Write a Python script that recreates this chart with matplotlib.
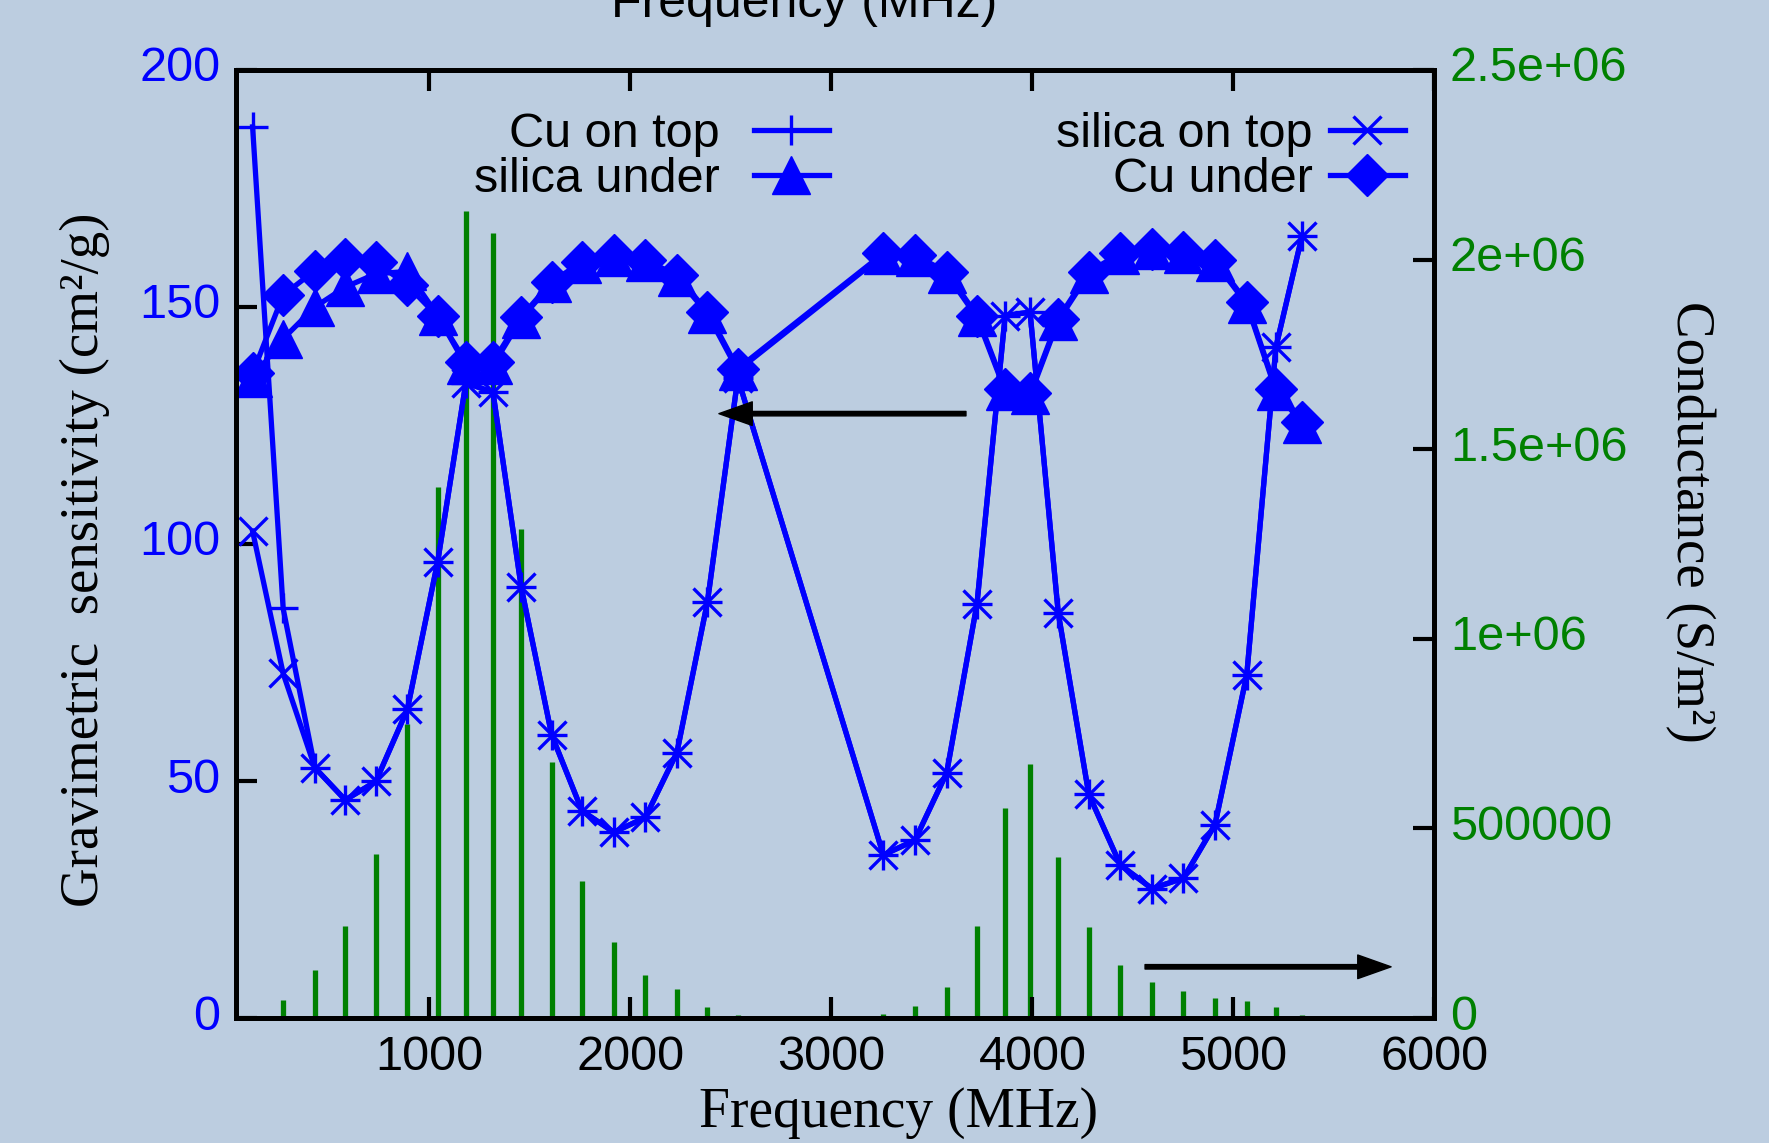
import matplotlib
matplotlib.use("Agg")
import matplotlib.pyplot as plt
from matplotlib.transforms import ScaledTranslation

# ---------------- data ----------------
freq = [120, 272, 430, 581, 733, 890, 1041, 1181, 1316, 1456, 1608, 1759, 1917,
        2074, 2231, 2383, 2534, 3258, 3415, 3573, 3724, 3864, 3988, 4128, 4280,
        4437, 4594, 4751, 4908, 5066, 5211, 5341]

cu_on_top = [188, 86.4, 52.8, 46.0, 49.9, 65.1, 96.3, 134, 132, 91, 59.7, 43.7,
             39.2, 42.3, 56.0, 87.8, 135, 34.4, 37.5, 51.7, 87.4, 148.2, 148.9,
             85.5, 47.2, 32.3, 27.3, 29.5, 40.8, 72.4, 141.5, 165.0]

silica_on_top = [102.7, 72.7, 52.8, 46.0, 49.9, 65.1, 96.3, 134, 132, 91, 59.7,
                 43.7, 39.2, 42.3, 56.0, 87.8, 135, 34.4, 37.5, 51.7, 87.4, 148.2,
                 148.9, 85.5, 47.2, 32.3, 27.3, 29.5, 40.8, 72.4, 141.5, 165.0]

silica_under = [135, 143.3, 150, 154.2, 157, 157.5, 148.2, 137.7, 137.7, 147.5,
                155, 159, 160.5, 159.5, 156.3, 148.6, 136.6, 161, 160.5, 157,
                147.8, 132.3, 131.4, 147.1, 157, 161, 162, 161.2, 159.5, 150.6,
                132.3, 125.4]

cu_under = [136, 152.5, 157.7, 160.2, 159.5, 154.6, 148, 138.4, 138.4, 147.9,
            155.3, 159.5, 160.9, 159.9, 156.7, 149, 137, 161.3, 160.9, 157.4,
            148.2, 132.7, 131.8, 147.5, 157.4, 161.3, 162.3, 161.6, 159.9, 151.0,
            132.7, 125.8]

conductance = [5e3, 48e3, 126e3, 242e3, 433e3, 776e3, 1.40e6, 2.128e6, 2.071e6,
               1.29e6, 675e3, 360e3, 201e3, 113e3, 76e3, 28e3, 9e3, 10.7e3, 31e3,
               82e3, 243e3, 554e3, 670e3, 424e3, 240e3, 140e3, 96e3, 71e3, 53e3,
               44e3, 28e3, 9e3]

xticks = [1000, 2000, 3000, 4000, 5000, 6000]
yticks_left = [0, 50, 100, 150, 200]
yticks_right = [0, 500000, 1000000, 1500000, 2000000, 2500000]
yticks_right_labels = ["0", "500000", "1e+06", "1.5e+06", "2e+06", "2.5e+06"]

arrow_left = ((3669, 127.5), (2440, 127.5))    # (from, to) in left-axis data
arrow_right = ((4560, 10.8), (5784, 10.8))

# ---------------- style ----------------
BG = "#bccde0"
BLUE = "#0000ff"
GREEN = "#008000"
SANS = ["Liberation Sans", "DejaVu Sans"]
SERIF = ["Liberation Serif", "DejaVu Serif"]
plt.rcParams["font.family"] = SANS

fig = plt.figure(figsize=(17.69, 11.43), dpi=100, facecolor=BG)
ax = fig.add_axes([0.13313, 0.10936, 0.67778, 0.82940])
ax2 = ax.twinx()
ax.set_zorder(2)
ax2.set_zorder(1)
ax.patch.set_visible(False)
ax2.patch.set_visible(False)

# conductance spectrum (right axis)
ax2.vlines(freq, 0, conductance, color=GREEN, lw=3.8)
ax2.axhline(0, color=GREEN, lw=2.5)
ax2.set_ylim(0, 2.5e6)
ax2.set_yticks(yticks_right)
ax2.set_yticklabels(yticks_right_labels)
ax2.tick_params(axis="y", direction="in", length=15, width=3,
                labelcolor=GREEN, labelsize=35, pad=11)
for s in ax2.spines.values():
    s.set_visible(False)

# sensitivity curves (left axis)
lw = 3.8
l_tri, = ax.plot(freq, silica_under, color=BLUE, lw=lw, marker="^", ms=28,
                 mew=1, label="silica under")
l_dia, = ax.plot(freq, cu_under, color=BLUE, lw=lw, marker="D", ms=21,
                 mew=1, label="Cu under")
l_plus, = ax.plot(freq, cu_on_top, color=BLUE, lw=lw, marker="+", ms=22,
                  mew=2.4, label="Cu on top")
l_x, = ax.plot(freq, silica_on_top, color=BLUE, lw=lw, marker="x", ms=20,
               mew=2.4, label="silica on top")

ax.set_xlim(35, 6000)
ax.set_ylim(0, 200)
ax.set_xticks(xticks)
ax.set_yticks(yticks_left)
ax.tick_params(axis="y", direction="in", length=15, width=3, labelcolor=BLUE,
               labelsize=35, pad=11, right=False)
ax.tick_params(axis="x", direction="in", length=15, width=3, labelcolor="black",
               labelsize=35, pad=12, top=True)
for s in ax.spines.values():
    s.set_linewidth(3.6)
    s.set_color("black")

# y tick labels sit slightly above their ticks in the reference
lift = ScaledTranslation(0, 6 / 100, fig.dpi_scale_trans)
for lab in ax.get_yticklabels() + ax2.get_yticklabels():
    lab.set_transform(lab.get_transform() + lift)

# arrows
for (x0, y0), (x1, y1) in (arrow_left, arrow_right):
    ax.annotate("", xy=(x1, y1), xytext=(x0, y0),
                arrowprops=dict(facecolor="black", edgecolor="black", width=3.2,
                                headwidth=17, headlength=24, shrink=0))

# legends
leg_kw = dict(loc="center right", frameon=False, markerfirst=False, fontsize=35,
              handlelength=1.55, labelspacing=0.0, borderpad=0,
              borderaxespad=0, numpoints=1)
leg1 = ax.legend(handles=[l_plus, l_tri], bbox_to_anchor=(0.495, 0.9085),
                 handletextpad=0.7, **leg_kw)
ax.add_artist(leg1)
leg2 = ax.legend(handles=[l_x, l_dia], bbox_to_anchor=(0.9754, 0.9085),
                 handletextpad=0.35, **leg_kw)

# axis titles
fig.text(85 / 1769, 1 - 560 / 1143, "Gravimetric  sensitivity (cm²/g)",
         rotation=90, ha="center", va="center", family=SERIF, fontsize=39.5)
fig.text(1690 / 1769, 1 - 522 / 1143, "Conductance (S/m²)",
         rotation=-90, ha="center", va="center", family=SERIF, fontsize=39.5)
fig.text(899 / 1769, 1 - 1127 / 1143, "Frequency (MHz)",
         ha="center", va="baseline", family=SERIF, fontsize=40)
fig.text(804 / 1769, 1 - 17 / 1143, "Frequency (MHz)",
         ha="center", va="baseline", family=SANS, fontsize=36)

fig.savefig("out.png", dpi=100, facecolor=BG)
